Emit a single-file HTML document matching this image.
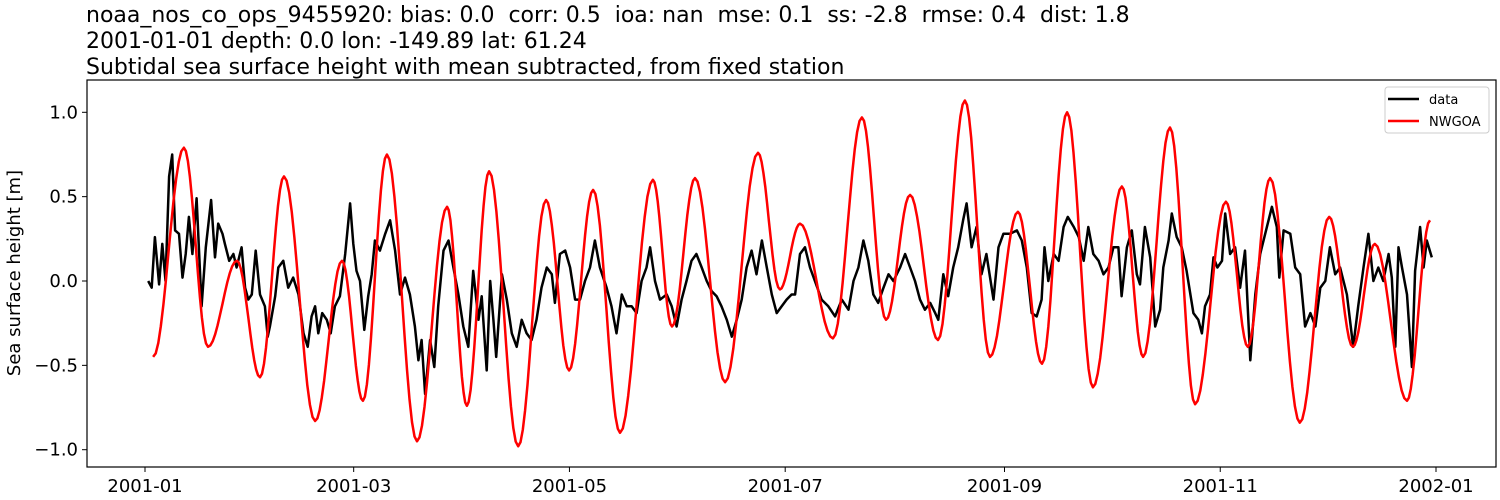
<!DOCTYPE html>
<html><head><meta charset="utf-8">
<style>
body{margin:0;background:#fff;}
svg{display:block;font-family:"DejaVu Sans","Liberation Sans",sans-serif;}
</style></head>
<body>
<svg id="chart" width="1500" height="500" viewBox="0 0 1500 500">
<g font-size="22" fill="#000">
<text x="86" y="22" xml:space="preserve">noaa_nos_co_ops_9455920: bias: 0.0  corr: 0.5  ioa: nan  mse: 0.1  ss: -2.8  rmse: 0.4  dist: 1.8</text>
<text x="86" y="48">2001-01-01 depth: 0.0 lon: -149.89 lat: 61.24</text>
<text x="86" y="74">Subtidal sea surface height with mean subtracted, from fixed station</text>
</g>
<g id="plot"></g>
<rect x="87" y="80" width="1409" height="387" fill="none" stroke="#000" stroke-width="1.2"/>
<text transform="translate(20,273) rotate(-90)" text-anchor="middle" font-size="18">Sea surface height [m]</text>
<g>
<rect x="1385" y="87" width="104" height="46" rx="3" fill="#fff" stroke="#ccc"/>
<line x1="1388" y1="99" x2="1419" y2="99" stroke="#000" stroke-width="2.5"/>
<text x="1429" y="104" font-size="13">data</text>
<line x1="1388" y1="121" x2="1419" y2="121" stroke="red" stroke-width="2.5"/>
<text x="1429" y="126" font-size="13">NWGOA</text>
</g>
</svg>
<script>
const yTicks=[1.0,0.5,0.0,-0.5,-1.0];
const yTickLabels=["1.0","0.5","0.0","\u22120.5","\u22121.0"];
const xTickDays=[0,59,120,181,243,304,365];
const xTickLabels=["2001-01","2001-03","2001-05","2001-07","2001-09","2001-11","2002-01"];
// NWGOA model: extremes (day of year, value)
const modelDays=[2.3,11.0,17.8,26.0,32.5,39.3,48.1,55.7,61.6,68.4,76.9,85.4,91.0,97.3,105.5,113.4,119.9,126.7,134.3,143.6,149.0,155.5,164.0,173.3,179.5,185.2,194.5,202.7,209.5,216.3,224.2,231.8,238.9,246.8,253.6,260.7,268.0,276.2,282.2,289.8,296.9,305.6,311.8,318.1,326.5,334.8,341.5,347.7,356.8,363.3];
const modelVals=[-0.45,0.79,-0.39,0.12,-0.57,0.62,-0.83,0.12,-0.71,0.75,-0.95,0.44,-0.74,0.65,-0.98,0.48,-0.53,0.54,-0.9,0.6,-0.27,0.61,-0.6,0.76,-0.05,0.34,-0.34,0.97,-0.23,0.51,-0.35,1.07,-0.45,0.41,-0.49,1.0,-0.63,0.56,-0.45,0.91,-0.73,0.47,-0.39,0.61,-0.84,0.38,-0.39,0.22,-0.71,0.36];
// observed data
const dataDays=[0.9,1.9,2.8,4.0,4.9,5.8,6.8,7.7,8.5,9.6,10.6,11.5,12.4,13.4,14.6,16.0,17.2,18.7,19.8,20.7,21.9,22.6,23.8,25.0,25.9,27.3,28.3,29.2,30.2,31.3,32.5,33.9,34.7,35.3,36.8,37.7,39.1,40.5,41.9,43.4,44.8,46.0,47.1,48.1,49.0,50.1,51.4,52.5,53.7,55.1,56.6,58.0,58.9,59.8,60.8,62.0,63.1,64.1,65.0,66.4,67.9,69.3,70.7,72.1,73.5,74.9,76.3,77.3,78.2,79.2,80.6,81.8,82.9,84.4,
85.8,87.2,88.6,90.0,91.4,92.8,94.3,95.2,96.6,97.6,98.5,99.3,100.9,102.3,103.7,105.1,106.5,107.9,109.3,110.7,112.1,113.6,115.0,115.9,117.3,118.8,120.2,121.6,123.0,124.4,125.8,127.2,128.6,130.5,131.9,133.3,134.8,136.2,137.6,139.0,140.4,141.8,142.8,144.2,145.6,147.5,148.9,150.3,151.7,153.1,154.5,155.9,157.4,158.8,160.2,161.6,163.0,164.5,165.9,167.3,168.7,170.1,171.5,172.9,174.4,175.8,177.2,178.6,180.0,181.4,182.8,
183.8,185.2,186.6,188.0,189.4,191.3,193.2,195.1,197.0,198.9,200.3,201.7,203.1,204.5,205.9,207.3,208.8,210.2,211.6,213.5,214.9,216.3,217.7,219.1,220.5,222.0,223.4,224.3,225.7,227.1,228.5,229.9,231.3,232.3,233.7,235.1,236.5,237.9,239.9,241.3,242.7,244.6,246.5,247.9,249.3,250.7,252.1,253.5,254.3,255.4,256.9,258.3,259.7,260.9,262.6,264.0,265.4,266.7,268.1,269.6,271.0,272.4,273.8,275.2,276.1,277.6,279.0,280.4,
281.3,282.7,284.2,285.6,287.0,287.9,289.4,290.3,291.7,293.1,294.5,296.4,297.8,298.8,299.7,301.1,302.1,303.2,304.5,305.4,306.8,308.2,309.6,311.0,312.5,313.9,315.3,316.7,318.6,320.0,320.7,321.9,323.8,325.2,326.6,328.0,329.5,330.9,332.3,333.7,335.0,336.5,337.9,339.8,341.6,343.0,344.5,345.9,347.3,348.7,350.1,351.6,352.5,353.5,354.4,355.4,356.8,358.2,359.1,360.5,361.5,362.4,363.8];
const dataVals=[0.00,-0.04,0.26,-0.02,0.22,0.00,0.62,0.75,0.30,0.28,0.02,0.16,0.38,0.16,0.49,-0.15,0.20,0.48,0.14,0.34,0.28,0.22,0.12,0.16,0.08,0.20,-0.04,-0.11,-0.08,0.18,-0.08,-0.15,-0.33,-0.27,-0.09,0.08,0.12,-0.04,0.02,-0.08,-0.31,-0.39,-0.21,-0.15,-0.31,-0.19,-0.23,-0.31,-0.15,-0.09,0.16,0.46,0.22,0.06,0.00,-0.29,-0.09,0.04,0.24,0.18,0.28,0.36,0.18,-0.08,0.02,-0.08,-0.27,-0.47,-0.35,-0.67,-0.35,-0.51,-0.15,0.18,
0.24,0.08,-0.08,-0.27,-0.39,0.06,-0.23,-0.09,-0.53,0.00,-0.23,-0.45,0.04,-0.11,-0.31,-0.39,-0.23,-0.31,-0.35,-0.23,-0.04,0.08,0.04,-0.13,0.16,0.18,0.08,-0.11,-0.11,0.00,0.08,0.24,0.08,-0.04,-0.15,-0.31,-0.08,-0.15,-0.15,-0.19,0.00,0.08,0.20,0.00,-0.11,-0.08,-0.15,-0.27,-0.11,0.00,0.12,0.16,0.08,0.00,-0.06,-0.09,-0.15,-0.23,-0.33,-0.23,-0.11,0.08,0.18,0.04,0.24,0.08,-0.08,-0.19,-0.15,-0.11,-0.08,
-0.08,0.16,0.20,0.08,0.00,-0.11,-0.15,-0.21,-0.11,-0.17,0.00,0.08,0.24,0.12,-0.08,-0.13,-0.04,0.04,0.00,0.08,0.16,0.08,0.00,-0.11,-0.17,-0.13,-0.19,-0.23,0.04,-0.09,0.08,0.20,0.36,0.46,0.20,0.32,0.04,0.16,-0.11,0.20,0.28,0.28,0.30,0.24,0.08,-0.19,-0.21,-0.11,0.20,0.00,0.16,0.12,0.32,0.38,0.32,0.26,0.12,0.32,0.16,0.12,0.04,0.08,0.20,0.20,-0.09,0.20,0.30,0.04,
-0.02,0.32,0.14,-0.27,-0.17,0.08,0.24,0.40,0.26,0.20,0.06,-0.19,-0.23,-0.31,-0.15,-0.08,0.14,0.08,0.12,0.40,0.16,0.20,-0.04,0.18,-0.47,-0.08,0.16,0.28,0.44,0.32,0.02,0.30,0.28,0.08,0.04,-0.27,-0.19,-0.27,-0.04,0.00,0.20,0.04,0.08,-0.08,-0.39,-0.15,0.08,0.28,0.00,0.08,0.00,0.16,0.02,-0.39,0.20,0.08,-0.08,-0.51,0.06,0.32,0.08,0.24,0.14];

const NS="http://www.w3.org/2000/svg";
const plot=document.getElementById('plot');
const X0=145, PXDAY=1291/365, Y0=281, PXUNIT=168.7;
function xs(d){return X0+d*PXDAY;}
function ys(v){return Y0-v*PXUNIT;}
function mk(tag,attrs){const e=document.createElementNS(NS,tag);for(const k in attrs)e.setAttribute(k,attrs[k]);return e;}

yTicks.forEach((t,i)=>{
  const g=mk('g',{});
  
  
  g.appendChild(mk('line',{x1:82,x2:87,y1:ys(t),y2:ys(t),stroke:'#000','stroke-width':1}));
  const tx=mk('text',{x:78,y:ys(t)+6,'text-anchor':'end','font-size':18});
  tx.textContent=yTickLabels[i];
  g.appendChild(tx);
  plot.appendChild(g);
});
xTickDays.forEach((d,i)=>{
  const g=mk('g',{});
  
  
  g.appendChild(mk('line',{x1:xs(d),x2:xs(d),y1:467,y2:472,stroke:'#000','stroke-width':1}));
  const tx=mk('text',{x:xs(d),y:492,'text-anchor':'middle','font-size':18});
  tx.textContent=xTickLabels[i];
  g.appendChild(tx);
  plot.appendChild(g);
});

// model curve: smooth cosine easing between successive extremes
let dm='M'+xs(modelDays[0]).toFixed(1)+','+ys(modelVals[0]).toFixed(1);
for(let i=0;i<modelDays.length-1;i++){
  for(let s=1;s<=12;s++){
    const f=s/12, w=(1-Math.cos(Math.PI*f))/2;
    const d=modelDays[i]+(modelDays[i+1]-modelDays[i])*f;
    const v=modelVals[i]+(modelVals[i+1]-modelVals[i])*w;
    dm+=' L'+xs(d).toFixed(1)+','+ys(v).toFixed(1);
  }
}
const red=mk('path',{d:dm,fill:'none',stroke:'red','stroke-width':2.5,'stroke-linejoin':'round'});



let dd='';
dataDays.forEach((d,i)=>{dd+=(i?' L':'M')+xs(d).toFixed(1)+','+ys(dataVals[i]).toFixed(1);});
const blk=mk('path',{d:dd,fill:'none',stroke:'#000','stroke-width':2.5,'stroke-linejoin':'round'});


plot.appendChild(blk);
plot.appendChild(red);
</script>
</body></html>
